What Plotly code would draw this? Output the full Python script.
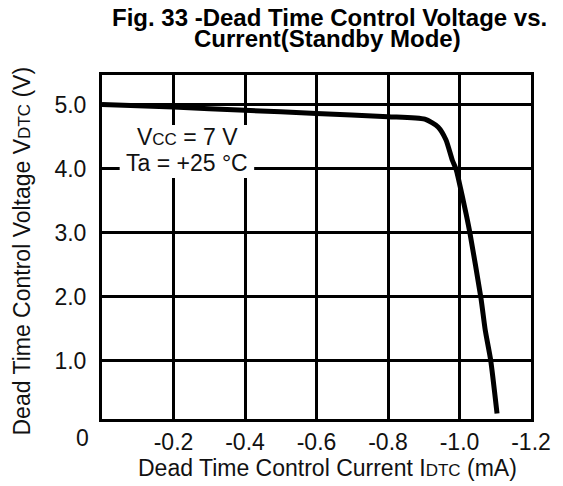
import plotly.graph_objects as go

# Dead time control current (mA) and voltage (V), standby mode
current_ma = [0, -0.2, -0.4, -0.6, -0.8, -0.903, -0.940, -0.962, -0.980, -0.991,
              -1.007, -1.019, -1.029, -1.060, -1.072, -1.087, -1.105]
voltage_v = [5.0, 4.96, 4.91, 4.86, 4.81, 4.77, 4.65, 4.45, 4.13, 3.98,
             3.59, 3.28, 3.0, 1.98, 1.48, 1.02, 0.18]

x_ticks = [-0.2, -0.4, -0.6, -0.8, -1.0, -1.2]
x_tick_text = ["-0.2", "-0.4", "-0.6", "-0.8", "-1.0", "-1.2"]
y_ticks = [1, 2, 3, 4, 5]
y_tick_text = ["1.0", "2.0", "3.0", "4.0", "5.0"]

FONT = "Liberation Sans, Arial, sans-serif"
FS = 23
SMALL = 17

W, H = 563, 486
L, R, T, B = 102, 539, 75, 419   # plot area edges in pixels


def px(xp):
    return (xp - L) / (R - L)


def py(yp):
    return (B - yp) / (B - T)


fig = go.Figure()
fig.add_trace(go.Scatter(
    x=current_ma, y=voltage_v, mode="lines",
    line=dict(color="black", width=5, shape="spline", smoothing=0.6),
    showlegend=False, hoverinfo="skip",
))

axis_common = dict(
    showline=True, linecolor="black", linewidth=3, mirror=True,
    showgrid=True, gridcolor="black", gridwidth=3, zeroline=False,
    ticks="", tickfont=dict(family=FONT, size=FS, color="#111"),
)

fig.update_xaxes(range=[0, -1.2], tickvals=x_ticks, ticktext=x_tick_text,
                 ticklabelstandoff=0, **axis_common)
fig.update_yaxes(range=[0.094, 5.46], tickvals=y_ticks, ticktext=y_tick_text,
                 ticklabelstandoff=8, **axis_common)

ann = []
# Title (two lines)
ann.append(dict(text="<b>Fig. 33 -Dead Time Control Voltage vs.</b>",
                x=px(334), y=py(18), xref="paper", yref="paper",
                showarrow=False, xanchor="center", yanchor="middle",
                font=dict(family=FONT, size=24, color="black")))
ann.append(dict(text="<b>Current(Standby Mode)</b>",
                x=px(332), y=py(38), xref="paper", yref="paper",
                showarrow=False, xanchor="center", yanchor="middle",
                font=dict(family=FONT, size=24, color="black")))
# Axis titles
ann.append(dict(text=f"Dead Time Control Current I<span style='font-size:{SMALL}px'>DTC</span> (mA)",
                x=px(332), y=py(468), xref="paper", yref="paper",
                showarrow=False, xanchor="center", yanchor="middle",
                font=dict(family=FONT, size=FS, color="#111")))
ann.append(dict(text=f"Dead Time Control Voltage V<span style='font-size:{SMALL}px'>DTC</span> (V)",
                x=px(20), y=py(251), xref="paper", yref="paper", textangle=-90,
                showarrow=False, xanchor="center", yanchor="middle",
                font=dict(family=FONT, size=FS, color="#111")))
# Origin label
ann.append(dict(text="0", x=px(82), y=py(438), xref="paper", yref="paper",
                showarrow=False, xanchor="center", yanchor="middle",
                font=dict(family=FONT, size=FS, color="#111")))
# Conditions
ann.append(dict(text=f"V<span style='font-size:{SMALL}px'>CC</span> = 7 V",
                x=px(189), y=py(137), xref="paper", yref="paper",
                showarrow=False, xanchor="center", yanchor="middle",
                font=dict(family=FONT, size=FS, color="#111")))
ann.append(dict(text="Ta = +25 °C",
                x=px(189), y=py(163), xref="paper", yref="paper",
                showarrow=False, xanchor="center", yanchor="middle",
                font=dict(family=FONT, size=FS, color="#111")))

fig.update_layout(
    width=W, height=H,
    margin=dict(l=L, r=W - R, t=T, b=H - B, pad=0),
    paper_bgcolor="white", plot_bgcolor="white",
    annotations=ann,
    shapes=[dict(type="rect", xref="paper", yref="paper",
                 x0=px(120), x1=px(257), y0=py(178), y1=py(125),
                 fillcolor="white", line=dict(width=0), layer="above")],
)

fig.write_html("out.html")
